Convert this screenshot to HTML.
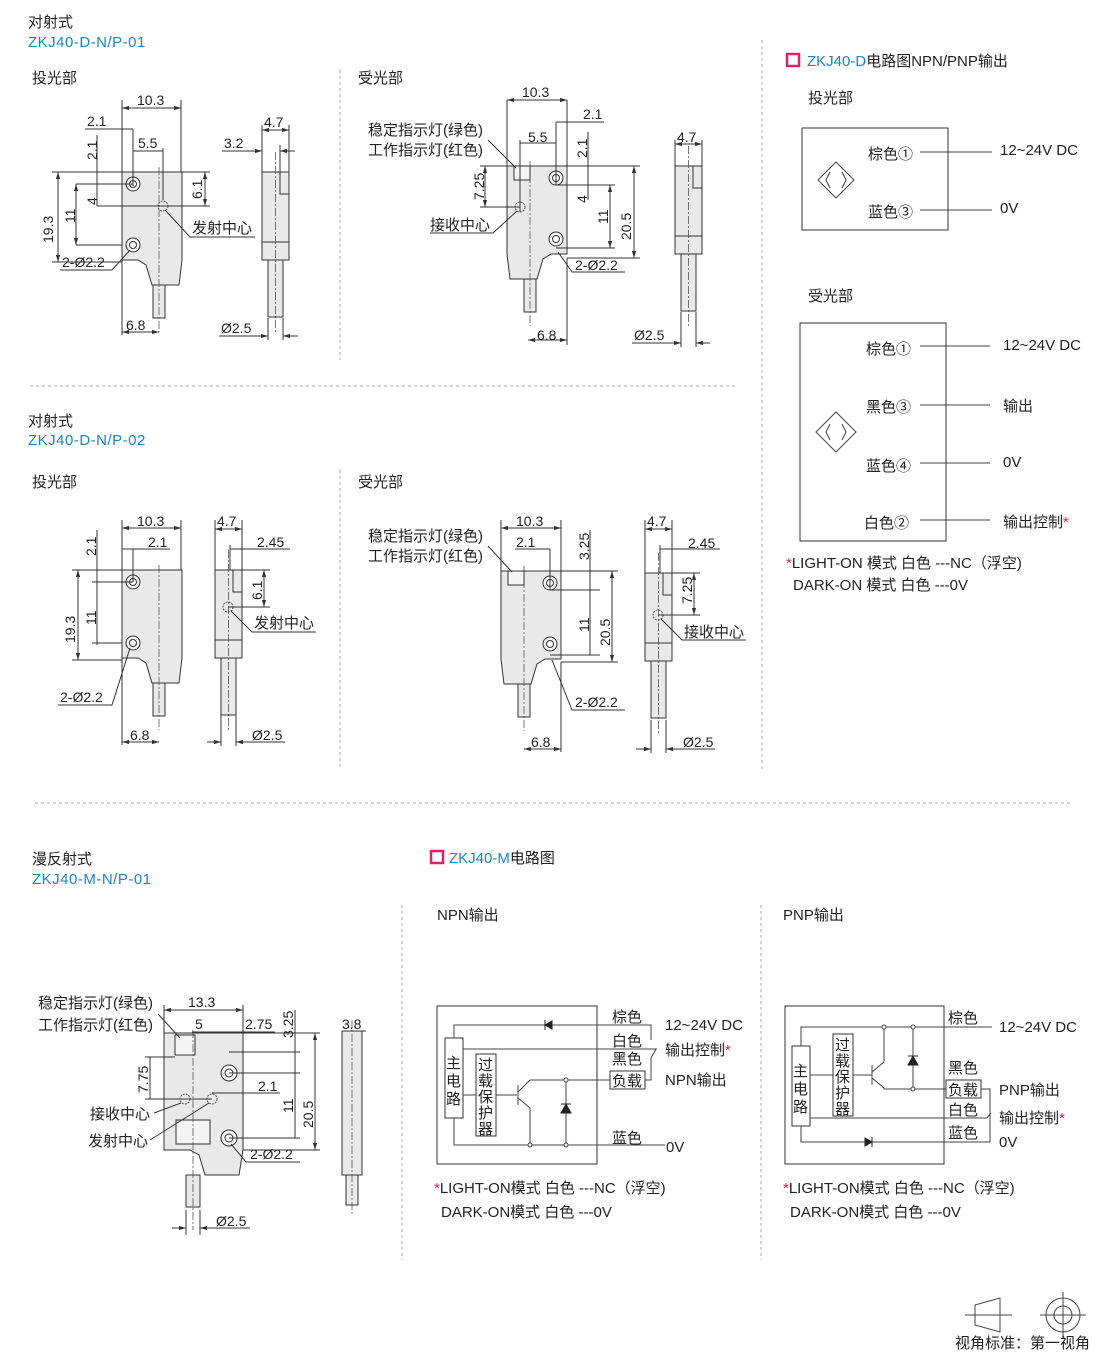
<!DOCTYPE html>
<html><head><meta charset="utf-8"><style>
html,body{margin:0;padding:0;background:#fff}
svg{display:block}
text{font-family:"Liberation Sans","Noto Sans CJK SC",sans-serif;fill:#222}
.t{font-size:15px}.d{font-size:14px}.b{fill:#1a86c6;font-size:15px;letter-spacing:0.5px}
.ln{stroke:#333;stroke-width:1;fill:none}
.cl{stroke:#555;stroke-width:0.8;stroke-dasharray:8 2 2 2;fill:none}
.sep{stroke:#aaa;stroke-width:1;stroke-dasharray:3 3;fill:none}
.body{fill:#e9e9e9;stroke:#333;stroke-width:1}
.w{stroke:#444;stroke-width:1;fill:none}
</style></head><body>
<svg width="1110" height="1354" viewBox="0 0 1110 1354" xmlns="http://www.w3.org/2000/svg">
<defs>
<g id="pb">
 <path class="body" d="M0,0 H60 V88 L57,113 H30 L24,93 L16,88 H0 Z"/>
 <rect class="body" x="31" y="113" width="12" height="33"/>
 <circle cx="11" cy="12" r="7" fill="#f4f4f4" stroke="#333"/><circle cx="11" cy="12" r="3.5" fill="#fff" stroke="#333"/>
 <circle cx="11" cy="73" r="7" fill="#f4f4f4" stroke="#333"/><circle cx="11" cy="73" r="3.5" fill="#fff" stroke="#333"/>
 <line class="cl" x1="37" y1="-5" x2="37" y2="160"/>
</g>
<g id="sv">
 <rect class="body" x="0" y="0" width="27" height="88"/>
 <line class="ln" x1="0" y1="70" x2="27" y2="70"/>
 <polyline class="ln" points="18,0 18,22 27,22"/>
 <rect class="body" x="6" y="88" width="15" height="57"/>
 <line class="cl" x1="13.5" y1="-20" x2="13.5" y2="160"/>
</g>
<marker id="a" viewBox="0 0 10 10" refX="10" refY="5" markerWidth="7" markerHeight="7" orient="auto-start-reverse"><path d="M0,2 L10,5 L0,8z" fill="#333"/></marker>
</defs>

<!-- headers -->
<text class="t" x="28" y="27">对射式</text>
<text class="b" x="28" y="47">ZKJ40-D-N/P-01</text>
<text class="t" x="32" y="83">投光部</text>
<text class="t" x="358" y="83">受光部</text>

<!-- separators -->
<line class="sep" x1="340" y1="70" x2="340" y2="360"/>
<line class="sep" x1="30" y1="386" x2="738" y2="386"/>
<line class="sep" x1="340" y1="470" x2="340" y2="768"/>
<line class="sep" x1="762" y1="40" x2="762" y2="772"/>
<line class="sep" x1="35" y1="803" x2="1073" y2="803"/>
<line class="sep" x1="402" y1="905" x2="402" y2="1260"/>
<line class="sep" x1="761" y1="905" x2="761" y2="1260"/>

<!-- ===== set 1 projector ===== -->
<use href="#pb" x="122" y="172"/>
<circle cx="163" cy="206" r="5" fill="none" stroke="#555" stroke-dasharray="2 1"/>
<line class="ln" x1="122" y1="100" x2="122" y2="335"/><line class="ln" x1="181" y1="100" x2="181" y2="172"/>
<line class="ln" x1="122" y1="108" x2="181" y2="108" marker-start="url(#a)" marker-end="url(#a)"/>
<text class="d" x="137" y="105">10.3</text>
<line class="ln" x1="85" y1="129" x2="133" y2="129"/><text class="d" x="87" y="126">2.1</text>
<line class="ln" x1="133" y1="129" x2="133" y2="186"/>
<line class="ln" x1="133" y1="151" x2="163" y2="151"/><text class="d" x="138" y="148">5.5</text>
<line class="ln" x1="163" y1="148" x2="163" y2="200"/>
<line class="ln" x1="52" y1="172" x2="122" y2="172"/><line class="ln" x1="181" y1="172" x2="210" y2="172"/>
<line class="ln" x1="52" y1="262" x2="122" y2="262"/>
<line class="ln" x1="58" y1="172" x2="58" y2="262" marker-start="url(#a)" marker-end="url(#a)"/>
<text class="d" transform="translate(53,243) rotate(-90)">19.3</text>
<line class="ln" x1="97" y1="135" x2="97" y2="206"/>
<text class="d" transform="translate(97,160) rotate(-90)">2.1</text>
<text class="d" transform="translate(97,205) rotate(-90)">4</text>
<line class="ln" x1="97" y1="206" x2="163" y2="206"/><line class="ln" x1="163" y1="206" x2="210" y2="206"/>
<line class="ln" x1="76" y1="184" x2="133" y2="184"/><line class="ln" x1="76" y1="245" x2="122" y2="245"/>
<line class="ln" x1="76" y1="184" x2="76" y2="245" marker-start="url(#a)" marker-end="url(#a)"/>
<text class="d" transform="translate(75,223) rotate(-90)">11</text>
<line class="ln" x1="205" y1="172" x2="205" y2="206" marker-start="url(#a)" marker-end="url(#a)"/>
<text class="d" transform="translate(202,199) rotate(-90)">6.1</text>
<polyline class="ln" points="165,210 190,237 255,237"/><text class="t" x="192" y="233">发射中心</text>
<polyline class="ln" points="130,250 112,270 60,270"/><text class="d" x="62" y="267">2-Ø2.2</text>
<line class="ln" x1="122" y1="332" x2="159" y2="332" marker-start="url(#a)" marker-end="url(#a)"/><text class="d" x="126" y="330">6.8</text>
<use href="#sv" x="262" y="172"/>
<line class="ln" x1="262" y1="125" x2="262" y2="172"/><line class="ln" x1="289" y1="125" x2="289" y2="172"/>
<line class="ln" x1="262" y1="130" x2="289" y2="130" marker-start="url(#a)" marker-end="url(#a)"/><text class="d" x="264" y="127">4.7</text>
<line class="ln" x1="222" y1="151" x2="262" y2="151" marker-end="url(#a)"/><line class="ln" x1="280" y1="151" x2="295" y2="151" marker-start="url(#a)"/>
<line class="ln" x1="280" y1="145" x2="280" y2="172"/>
<text class="d" x="224" y="148">3.2</text>
<line class="ln" x1="219" y1="336" x2="268" y2="336" marker-end="url(#a)"/><line class="ln" x1="283" y1="336" x2="298" y2="336" marker-start="url(#a)"/>
<line class="ln" x1="268" y1="318" x2="268" y2="340"/><line class="ln" x1="283" y1="318" x2="283" y2="340"/>
<text class="d" x="221" y="333">Ø2.5</text>

<!-- ===== set 1 receiver ===== -->
<use href="#pb" transform="translate(567,166) scale(-1,1)"/>
<rect x="514" y="166" width="16" height="14" fill="#f4f4f4" stroke="#333"/>
<circle cx="520" cy="207" r="5" fill="none" stroke="#555" stroke-dasharray="2 1"/>
<line class="ln" x1="507" y1="100" x2="507" y2="166"/><line class="ln" x1="567" y1="100" x2="567" y2="166"/>
<line class="ln" x1="507" y1="100" x2="567" y2="100" marker-start="url(#a)" marker-end="url(#a)"/><text class="d" x="522" y="97">10.3</text>
<line class="ln" x1="556" y1="122" x2="604" y2="122"/><text class="d" x="583" y="119">2.1</text>
<line class="ln" x1="556" y1="122" x2="556" y2="185"/>
<line class="ln" x1="520" y1="143" x2="556" y2="143"/><text class="d" x="528" y="142">5.5</text>
<line class="ln" x1="520" y1="140" x2="520" y2="212"/>
<text class="t" x="368" y="135">稳定指示灯(绿色)</text>
<text class="t" x="368" y="155">工作指示灯(红色)</text>
<polyline class="ln" points="488,140 516,168"/>
<line class="ln" x1="480" y1="166" x2="507" y2="166"/><line class="ln" x1="567" y1="166" x2="640" y2="166"/>
<line class="ln" x1="485" y1="166" x2="485" y2="207" marker-start="url(#a)" marker-end="url(#a)"/>
<text class="d" transform="translate(484,200) rotate(-90)">7.25</text>
<line class="ln" x1="480" y1="207" x2="520" y2="207"/>
<line class="ln" x1="556" y1="185" x2="615" y2="185"/><line class="ln" x1="556" y1="248" x2="615" y2="248"/>
<line class="ln" x1="588" y1="132" x2="588" y2="200"/>
<text class="d" transform="translate(587,158) rotate(-90)">2.1</text>
<text class="d" transform="translate(587,203) rotate(-90)">4</text>
<line class="ln" x1="610" y1="185" x2="610" y2="248" marker-start="url(#a)" marker-end="url(#a)"/>
<text class="d" transform="translate(608,224) rotate(-90)">11</text>
<line class="ln" x1="567" y1="258" x2="640" y2="258"/>
<line class="ln" x1="634" y1="166" x2="634" y2="258" marker-start="url(#a)" marker-end="url(#a)"/>
<text class="d" transform="translate(631,240) rotate(-90)">20.5</text>
<polyline class="ln" points="517,211 493,233 430,233"/><text class="t" x="430" y="230">接收中心</text>
<polyline class="ln" points="558,252 572,272 625,272"/><text class="d" x="575" y="270">2-Ø2.2</text>
<line class="ln" x1="528" y1="340" x2="567" y2="340" marker-start="url(#a)" marker-end="url(#a)"/><text class="d" x="537" y="340">6.8</text>
<line class="ln" x1="567" y1="258" x2="567" y2="345"/>
<use href="#sv" x="675" y="166"/>
<line class="ln" x1="675" y1="140" x2="675" y2="166"/><line class="ln" x1="702" y1="140" x2="702" y2="166"/>
<line class="ln" x1="675" y1="144" x2="702" y2="144" marker-start="url(#a)" marker-end="url(#a)"/><text class="d" x="677" y="142">4.7</text>
<line class="ln" x1="632" y1="343" x2="681" y2="343" marker-end="url(#a)"/><line class="ln" x1="696" y1="343" x2="710" y2="343" marker-start="url(#a)"/>
<line class="ln" x1="681" y1="312" x2="681" y2="347"/><line class="ln" x1="696" y1="312" x2="696" y2="347"/>
<text class="d" x="634" y="340">Ø2.5</text>

<!-- ===== set 2 ===== -->
<text class="t" x="28" y="426">对射式</text>
<text class="b" x="28" y="445">ZKJ40-D-N/P-02</text>
<text class="t" x="32" y="487">投光部</text>
<text class="t" x="358" y="487">受光部</text>
<use href="#pb" x="122" y="570"/>
<line class="ln" x1="122" y1="520" x2="122" y2="745"/><line class="ln" x1="181" y1="520" x2="181" y2="570"/>
<line class="ln" x1="122" y1="528" x2="181" y2="528" marker-start="url(#a)" marker-end="url(#a)"/><text class="d" x="137" y="526">10.3</text>
<line class="ln" x1="122" y1="549" x2="170" y2="549"/><text class="d" x="148" y="547">2.1</text>
<line class="ln" x1="133" y1="549" x2="133" y2="582"/>
<line class="ln" x1="72" y1="570" x2="122" y2="570"/><line class="ln" x1="72" y1="660" x2="122" y2="660"/>
<line class="ln" x1="78" y1="570" x2="78" y2="660" marker-start="url(#a)" marker-end="url(#a)"/>
<text class="d" transform="translate(75,643) rotate(-90)">19.3</text>
<line class="ln" x1="97" y1="530" x2="97" y2="645"/>
<text class="d" transform="translate(96,556) rotate(-90)">2.1</text>
<line class="ln" x1="92" y1="582" x2="133" y2="582"/><line class="ln" x1="92" y1="643" x2="122" y2="643"/>
<text class="d" transform="translate(96,625) rotate(-90)">11</text>
<polyline class="ln" points="130,648 112,705 58,705"/><text class="d" x="60" y="702">2-Ø2.2</text>
<line class="ln" x1="122" y1="742" x2="159" y2="742" marker-start="url(#a)" marker-end="url(#a)"/><text class="d" x="130" y="740">6.8</text>
<use href="#sv" x="215" y="570"/>
<circle cx="228" cy="607" r="5" fill="none" stroke="#555" stroke-dasharray="2 1"/>
<line class="ln" x1="215" y1="520" x2="215" y2="570"/><line class="ln" x1="242" y1="520" x2="242" y2="570"/>
<line class="ln" x1="215" y1="529" x2="242" y2="529" marker-start="url(#a)" marker-end="url(#a)"/><text class="d" x="217" y="526">4.7</text>
<line class="ln" x1="230" y1="549" x2="290" y2="549"/><line class="ln" x1="230" y1="545" x2="230" y2="570"/><text class="d" x="257" y="547">2.45</text>
<line class="ln" x1="242" y1="570" x2="270" y2="570"/><line class="ln" x1="228" y1="607" x2="270" y2="607"/>
<line class="ln" x1="264" y1="570" x2="264" y2="607" marker-start="url(#a)" marker-end="url(#a)"/>
<text class="d" transform="translate(262,600) rotate(-90)">6.1</text>
<polyline class="ln" points="231,611 252,632 316,632"/><text class="t" x="254" y="628">发射中心</text>
<line class="ln" x1="207" y1="742" x2="221" y2="742" marker-end="url(#a)"/><line class="ln" x1="236" y1="742" x2="285" y2="742" marker-start="url(#a)"/>
<line class="ln" x1="221" y1="715" x2="221" y2="746"/><line class="ln" x1="236" y1="715" x2="236" y2="746"/>
<text class="d" x="252" y="740">Ø2.5</text>

<use href="#pb" transform="translate(561,571) scale(-1,1)"/>
<rect x="508" y="571" width="16" height="14" fill="#f4f4f4" stroke="#333"/>
<text class="t" x="368" y="541">稳定指示灯(绿色)</text>
<text class="t" x="368" y="561">工作指示灯(红色)</text>
<polyline class="ln" points="488,546 512,572"/>
<line class="ln" x1="501" y1="520" x2="501" y2="571"/><line class="ln" x1="561" y1="520" x2="561" y2="571"/>
<line class="ln" x1="501" y1="528" x2="561" y2="528" marker-start="url(#a)" marker-end="url(#a)"/><text class="d" x="516" y="526">10.3</text>
<line class="ln" x1="515" y1="549" x2="550" y2="549"/><text class="d" x="516" y="547">2.1</text>
<line class="ln" x1="550" y1="549" x2="550" y2="590"/>
<line class="ln" x1="561" y1="571" x2="618" y2="571"/><line class="ln" x1="550" y1="590" x2="600" y2="590"/>
<line class="ln" x1="550" y1="655" x2="600" y2="655"/><line class="ln" x1="561" y1="662" x2="618" y2="662"/>
<line class="ln" x1="590" y1="530" x2="590" y2="655"/>
<text class="d" transform="translate(589,560) rotate(-90)">3.25</text>
<text class="d" transform="translate(589,632) rotate(-90)">11</text>
<line class="ln" x1="612" y1="571" x2="612" y2="662" marker-start="url(#a)" marker-end="url(#a)"/>
<text class="d" transform="translate(610,646) rotate(-90)">20.5</text>
<polyline class="ln" points="552,660 572,710 625,710"/><text class="d" x="575" y="707">2-Ø2.2</text>
<line class="ln" x1="524" y1="749" x2="561" y2="749" marker-start="url(#a)" marker-end="url(#a)"/><text class="d" x="531" y="747">6.8</text>
<line class="ln" x1="561" y1="662" x2="561" y2="752"/>
<use href="#sv" x="645" y="573"/>
<circle cx="658" cy="615" r="5" fill="none" stroke="#555" stroke-dasharray="2 1"/>
<line class="ln" x1="645" y1="520" x2="645" y2="573"/><line class="ln" x1="672" y1="520" x2="672" y2="573"/>
<line class="ln" x1="645" y1="529" x2="672" y2="529" marker-start="url(#a)" marker-end="url(#a)"/><text class="d" x="647" y="526">4.7</text>
<line class="ln" x1="660" y1="549" x2="720" y2="549"/><line class="ln" x1="660" y1="545" x2="660" y2="573"/><text class="d" x="688" y="548">2.45</text>
<line class="ln" x1="672" y1="573" x2="700" y2="573"/><line class="ln" x1="658" y1="615" x2="700" y2="615"/>
<line class="ln" x1="694" y1="573" x2="694" y2="615" marker-start="url(#a)" marker-end="url(#a)"/>
<text class="d" transform="translate(692,604) rotate(-90)">7.25</text>
<polyline class="ln" points="661,619 682,640 746,640"/><text class="t" x="684" y="637">接收中心</text>
<line class="ln" x1="636" y1="749" x2="651" y2="749" marker-end="url(#a)"/><line class="ln" x1="666" y1="749" x2="715" y2="749" marker-start="url(#a)"/>
<line class="ln" x1="651" y1="720" x2="651" y2="753"/><line class="ln" x1="666" y1="720" x2="666" y2="753"/>
<text class="d" x="683" y="747">Ø2.5</text>

<!-- ===== right top circuits ===== -->
<rect x="787" y="54" width="12" height="12" fill="none" stroke="#e0206a" stroke-width="2.5"/>
<text class="t" x="807" y="66"><tspan fill="#1a86c6">ZKJ40-D</tspan>电路图NPN/PNP输出</text>
<text class="t" x="808" y="103">投光部</text>
<rect x="802" y="128" width="146" height="102" fill="none" stroke="#333"/>
<path class="w" d="M818,180 L836,162 L854,180 L836,198 Z M830,172 L826,180 L830,188 M842,172 L846,180 L842,188"/>
<text class="t" x="868" y="159">棕色①</text><text class="t" x="868" y="217">蓝色③</text>
<line class="w" x1="920" y1="152" x2="992" y2="152"/><line class="w" x1="920" y1="210" x2="992" y2="210"/>
<text class="t" x="1000" y="155">12~24V DC</text><text class="t" x="1000" y="213">0V</text>
<text class="t" x="808" y="301">受光部</text>
<rect x="800" y="323" width="146" height="218" fill="none" stroke="#333"/>
<path class="w" d="M816,432 L836,412 L856,432 L836,452 Z M830,424 L826,432 L830,440 M842,424 L846,432 L842,440"/>
<text class="t" x="866" y="354">棕色①</text><text class="t" x="866" y="412">黑色③</text>
<text class="t" x="866" y="471">蓝色④</text><text class="t" x="864" y="528">白色②</text>
<line class="w" x1="920" y1="346" x2="990" y2="346"/><line class="w" x1="920" y1="405" x2="990" y2="405"/>
<line class="w" x1="920" y1="463" x2="990" y2="463"/><line class="w" x1="920" y1="520" x2="990" y2="520"/>
<text class="t" x="1003" y="350">12~24V DC</text><text class="t" x="1003" y="411">输出</text>
<text class="t" x="1003" y="467">0V</text><text class="t" x="1003" y="527">输出控制<tspan fill="#e0206a">*</tspan></text>
<text class="t" x="786" y="568"><tspan fill="#e0206a">*</tspan>LIGHT-ON  模式 白色 ---NC（浮空)</text>
<text class="t" x="793" y="590">DARK-ON   模式 白色 ---0V</text>

<!-- ===== bottom left M series ===== -->
<text class="t" x="32" y="864">漫反射式</text>
<text class="b" x="32" y="884">ZKJ40-M-N/P-01</text>
<path class="body" d="M164,1033 H243 V1150 L239,1175 H205 L199,1155 L190,1150 H164 Z"/>
<rect class="body" x="186" y="1175" width="14" height="32"/>
<rect x="175" y="1035" width="20" height="20" fill="#f4f4f4" stroke="#333"/>
<rect x="176" y="1120" width="34" height="24" fill="#f4f4f4" stroke="#333"/>
<circle cx="229" cy="1073" r="8" fill="#f4f4f4" stroke="#333"/><circle cx="229" cy="1073" r="4" fill="#fff" stroke="#333"/>
<circle cx="229" cy="1138" r="8" fill="#f4f4f4" stroke="#333"/><circle cx="229" cy="1138" r="4" fill="#fff" stroke="#333"/>
<circle cx="185" cy="1099" r="5" fill="none" stroke="#555" stroke-dasharray="2 1"/>
<circle cx="212" cy="1099" r="5" fill="none" stroke="#555" stroke-dasharray="2 1"/>
<line class="cl" x1="193" y1="1030" x2="193" y2="1230"/>
<line class="ln" x1="164" y1="1010" x2="243" y2="1010" marker-start="url(#a)" marker-end="url(#a)"/>
<line class="ln" x1="164" y1="1005" x2="164" y2="1033"/><line class="ln" x1="243" y1="1005" x2="243" y2="1033"/>
<text class="d" x="188" y="1007">13.3</text>
<text class="t" x="38" y="1008">稳定指示灯(绿色)</text><text class="t" x="38" y="1030">工作指示灯(红色)</text>
<polyline class="ln" points="158,1014 180,1038"/>
<line class="ln" x1="192" y1="1032" x2="275" y2="1032"/><text class="d" x="195" y="1029">5</text><text class="d" x="245" y="1029">2.75</text>
<line class="ln" x1="243" y1="1033" x2="320" y2="1033"/>
<line class="ln" x1="229" y1="1052" x2="300" y2="1052"/><line class="ln" x1="229" y1="1073" x2="300" y2="1073"/>
<line class="ln" x1="229" y1="1138" x2="300" y2="1138"/><line class="ln" x1="243" y1="1150" x2="320" y2="1150"/>
<line class="ln" x1="212" y1="1093" x2="280" y2="1093"/><text class="d" x="258" y="1091">2.1</text>
<line class="ln" x1="295" y1="1010" x2="295" y2="1138"/>
<text class="d" transform="translate(293,1038) rotate(-90)">3.25</text>
<text class="d" transform="translate(293,1113) rotate(-90)">11</text>
<line class="ln" x1="315" y1="1033" x2="315" y2="1150" marker-start="url(#a)" marker-end="url(#a)"/>
<text class="d" transform="translate(313,1128) rotate(-90)">20.5</text>
<line class="ln" x1="150" y1="1057" x2="150" y2="1099"/>
<text class="d" transform="translate(148,1093) rotate(-90)">7.75</text>
<line class="ln" x1="145" y1="1057" x2="175" y2="1057"/><line class="ln" x1="145" y1="1099" x2="212" y2="1099"/>
<text class="t" x="90" y="1119">接收中心</text><polyline class="ln" points="154,1113 181,1103"/>
<text class="t" x="88" y="1146">发射中心</text><polyline class="ln" points="150,1140 209,1103"/>
<polyline class="ln" points="231,1144 246,1162 300,1162"/><text class="d" x="250" y="1159">2-Ø2.2</text>
<line class="ln" x1="186" y1="1210" x2="186" y2="1235"/><line class="ln" x1="200" y1="1210" x2="200" y2="1235"/>
<line class="ln" x1="172" y1="1228" x2="186" y2="1228" marker-end="url(#a)"/><line class="ln" x1="200" y1="1228" x2="250" y2="1228" marker-start="url(#a)"/>
<text class="d" x="216" y="1226">Ø2.5</text>
<rect class="body" x="342" y="1031" width="20" height="144"/>
<rect class="body" x="346" y="1175" width="12" height="30"/>
<line class="cl" x1="352" y1="1020" x2="352" y2="1215"/>
<line class="ln" x1="342" y1="1031" x2="366" y2="1031"/><text class="d" x="342" y="1029">3.8</text>

<!-- M circuit -->
<rect x="431" y="851" width="12" height="12" fill="none" stroke="#e0206a" stroke-width="2.5"/>
<text class="t" x="449" y="863"><tspan fill="#1a86c6">ZKJ40-M</tspan>电路图</text>
<text class="t" x="437" y="920">NPN输出</text>
<text class="t" x="783" y="920">PNP输出</text>

<g>
<rect x="437" y="1006" width="160" height="158" fill="none" stroke="#333"/>
<rect x="445" y="1038" width="18" height="80" fill="none" stroke="#333"/>
<text class="t" x="446" y="1068">主</text><text class="t" x="446" y="1086">电</text><text class="t" x="446" y="1104">路</text>
<rect x="476" y="1054" width="20" height="82" fill="none" stroke="#333"/>
<text class="t" x="478" y="1070">过</text><text class="t" x="478" y="1086">载</text><text class="t" x="478" y="1102">保</text><text class="t" x="478" y="1118">护</text><text class="t" x="478" y="1134">器</text>
<polyline class="w" points="454,1038 454,1025 651,1025 651,1040"/>
<path d="M545,1025 L552,1021 L552,1029 Z M545,1020 V1030" fill="#222" stroke="#222"/>
<polyline class="w" points="463,1049 657,1049"/>
<polyline class="w" points="651,1058 656,1049"/>
<polyline class="w" points="454,1118 454,1145 665,1145"/>
<line class="w" x1="463" y1="1095" x2="476" y2="1095"/><line class="w" x1="496" y1="1095" x2="517" y2="1095"/>
<line class="w" x1="518" y1="1085" x2="518" y2="1105"/>
<polyline class="w" points="518,1092 530,1080 566,1080 610,1080"/><polyline class="w" points="518,1098 530,1108 530,1145"/>
<line class="w" x1="566" y1="1080" x2="566" y2="1145"/>
<path d="M561,1113 L571,1113 L566,1104 Z M561,1104 H571" fill="#222" stroke="#222"/>
<circle cx="566" cy="1080" r="2" fill="#fff" stroke="#444"/><circle cx="566" cy="1145" r="2" fill="#fff" stroke="#444"/><circle cx="530" cy="1145" r="2" fill="#fff" stroke="#444"/>
<rect x="610" y="1071" width="35" height="18" fill="none" stroke="#333"/>
<polyline class="w" points="645,1080 651,1080 651,1058"/>
<text class="t" x="612" y="1022">棕色</text><text class="t" x="612" y="1046">白色</text><text class="t" x="612" y="1064">黑色</text>
<text class="t" x="612" y="1086">负载</text><text class="t" x="612" y="1143">蓝色</text>
<text class="t" x="665" y="1030">12~24V DC</text><text class="t" x="665" y="1055">输出控制<tspan fill="#e0206a">*</tspan></text>
<text class="t" x="665" y="1085">NPN输出</text><text class="t" x="666" y="1152">0V</text>
<text class="t" x="434" y="1193"><tspan fill="#e0206a">*</tspan>LIGHT-ON模式  白色 ---NC（浮空)</text>
<text class="t" x="441" y="1217">DARK-ON模式  白色 ---0V</text>
</g>

<g>
<rect x="785" y="1006" width="159" height="158" fill="none" stroke="#333"/>
<rect x="792" y="1046" width="18" height="80" fill="none" stroke="#333"/>
<text class="t" x="793" y="1076">主</text><text class="t" x="793" y="1094">电</text><text class="t" x="793" y="1112">路</text>
<rect x="833" y="1034" width="20" height="82" fill="none" stroke="#333"/>
<text class="t" x="835" y="1050">过</text><text class="t" x="835" y="1066">载</text><text class="t" x="835" y="1082">保</text><text class="t" x="835" y="1098">护</text><text class="t" x="835" y="1114">器</text>
<polyline class="w" points="801,1046 801,1027 992,1027"/>
<line class="w" x1="810" y1="1075" x2="833" y2="1075"/><line class="w" x1="853" y1="1075" x2="872" y2="1075"/>
<line class="w" x1="872" y1="1065" x2="872" y2="1085"/>
<polyline class="w" points="872,1072 884,1062 884,1027"/><polyline class="w" points="872,1078 884,1088 884,1089 913,1089 946,1089"/>
<line class="w" x1="913" y1="1027" x2="913" y2="1089"/>
<path d="M908,1065 L918,1065 L913,1056 Z M908,1056 H918" fill="#222" stroke="#222"/>
<circle cx="884" cy="1027" r="2" fill="#fff" stroke="#444"/><circle cx="913" cy="1027" r="2" fill="#fff" stroke="#444"/><circle cx="913" cy="1089" r="2" fill="#fff" stroke="#444"/>
<rect x="946" y="1080" width="35" height="18" fill="none" stroke="#333"/>
<polyline class="w" points="981,1089 990,1089 990,1142"/>
<polyline class="w" points="810,1118 987,1118 991,1113"/>
<polyline class="w" points="801,1126 801,1142 990,1142"/>
<path d="M872,1142 L865,1138 L865,1146 Z M872,1137 V1147" fill="#222" stroke="#222"/>
<text class="t" x="948" y="1023">棕色</text><text class="t" x="948" y="1073">黑色</text>
<text class="t" x="948" y="1095">负载</text><text class="t" x="948" y="1115">白色</text><text class="t" x="948" y="1138">蓝色</text>
<text class="t" x="999" y="1032">12~24V DC</text><text class="t" x="999" y="1095">PNP输出</text>
<text class="t" x="999" y="1123">输出控制<tspan fill="#e0206a">*</tspan></text><text class="t" x="999" y="1147">0V</text>
<text class="t" x="783" y="1193"><tspan fill="#e0206a">*</tspan>LIGHT-ON模式  白色 ---NC（浮空)</text>
<text class="t" x="790" y="1217">DARK-ON模式  白色 ---0V</text>
</g>

<!-- projection symbol -->
<path class="w" d="M975,1305 L1000,1298 V1332 L975,1325 Z M965,1315 H1012"/>
<circle cx="1063" cy="1315" r="17" class="w"/><circle cx="1063" cy="1315" r="9" class="w"/>
<line class="w" x1="1040" y1="1315" x2="1086" y2="1315"/><line class="w" x1="1063" y1="1292" x2="1063" y2="1338"/>
<text class="t" x="955" y="1348">视角标准：第一视角</text>
</svg>
</body></html>
